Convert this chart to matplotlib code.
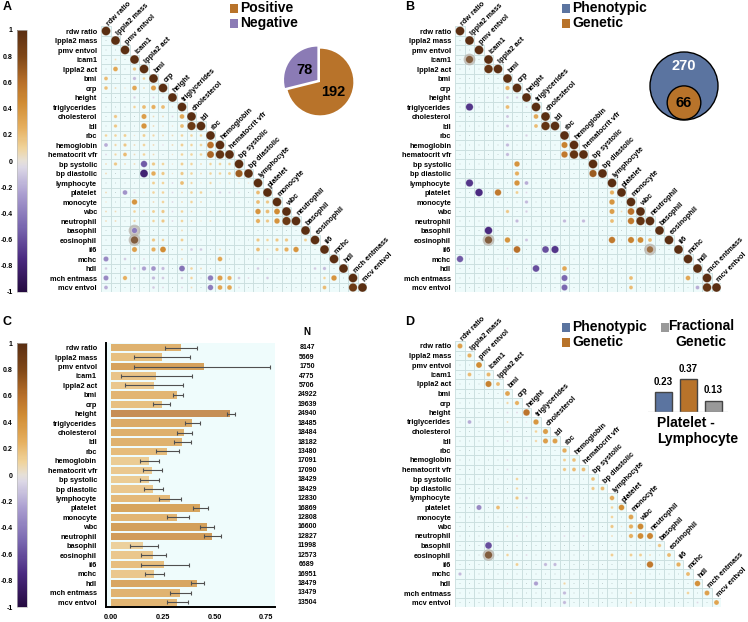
import matplotlib
matplotlib.use('Agg')
import matplotlib.pyplot as plt
from matplotlib.colors import LinearSegmentedColormap, Normalize, to_rgb
from matplotlib.patches import Rectangle, Circle
from matplotlib.cm import ScalarMappable
import numpy as np

plt.rcParams['font.family'] = ['Liberation Sans', 'DejaVu Sans']
plt.rcParams['font.weight'] = 'bold'

traits = ['rdw ratio', 'lppla2 mass', 'pmv entvol', 'icam1', 'lppla2 act', 'bmi', 'crp',
          'height', 'triglycerides', 'cholesterol', 'ldl', 'rbc', 'hemoglobin',
          'hematocrit vfr', 'bp systolic', 'bp diastolic', 'lymphocyte', 'platelet',
          'monocyte', 'wbc', 'neutrophil', 'basophil', 'eosinophil', 'il6', 'mchc', 'hdl',
          'mch entmass', 'mcv entvol']

# panel A: phenotypic correlations, lower triangle (row i holds columns 0..i-1)
pheno_rows = [
    [],
    [0.02],
    [0.02, 0.02],
    [0.02, 0.05, 0.02],
    [0.02, 0.30, 0.02, 0.15],
    [0.20, 0.02, 0.02, -0.15, 0.10],
    [0.18, 0.05, 0.03, 0.30, 0.05, 0.35],
    [0.02, 0.02, 0.02, -0.08, 0.02, -0.06, -0.04],
    [0.02, 0.02, 0.02, 0.10, 0.20, 0.25, 0.20, 0.03],
    [0.02, 0.15, 0.02, 0.02, 0.35, 0.05, 0.05, -0.05, 0.30],
    [0.02, 0.15, 0.02, 0.02, 0.40, 0.05, 0.03, 0.03, 0.20, 0.90],
    [0.10, 0.10, 0.12, 0.03, 0.12, 0.08, 0.05, 0.05, 0.10, 0.10, 0.10],
    [-0.20, 0.08, 0.15, 0.05, 0.10, 0.05, -0.04, 0.05, 0.12, 0.10, 0.10, 0.60],
    [-0.05, 0.08, 0.20, 0.05, 0.10, 0.05, 0.02, 0.03, 0.10, 0.10, 0.10, 0.65, 0.95],
    [0.05, 0.15, 0.05, 0.05, -0.55, 0.15, 0.10, 0.03, 0.12, 0.10, 0.05, 0.10, 0.10, 0.10],
    [0.05, 0.02, 0.02, 0.02, -0.80, 0.28, 0.15, 0.03, 0.15, 0.10, 0.05, 0.10, 0.10, 0.12, 0.70],
    [0.02, 0.02, 0.02, 0.02, 0.02, 0.12, 0.10, -0.05, 0.20, 0.08, 0.03, 0.08, 0.03, 0.03, 0.03,
     0.03],
    [0.05, 0.02, -0.30, -0.05, 0.03, 0.10, 0.10, -0.05, 0.05, 0.10, 0.10, 0.03, -0.08, -0.06,
     -0.04, 0.02, 0.20],
    [0.03, 0.02, 0.02, 0.40, 0.02, 0.05, 0.10, -0.05, 0.05, 0.10, 0.05, 0.02, 0.02, -0.05, 0.02,
     0.02, 0.20, 0.15],
    [0.05, 0.05, 0.02, 0.10, 0.05, 0.12, 0.15, -0.05, 0.10, 0.05, 0.03, 0.05, 0.05, 0.03, 0.03,
     0.03, 0.40, 0.20, 0.45],
    [0.05, 0.05, 0.02, 0.08, 0.02, 0.10, 0.15, -0.05, 0.10, 0.05, 0.03, 0.05, 0.02, 0.02, 0.02,
     0.02, 0.25, 0.15, 0.40, 0.90],
    [0.02, 0.02, 0.02, -0.40, 0.02, 0.02, 0.02, 0.02, 0.05, 0.03, 0.02, 0.02, 0.02, 0.02, 0.02,
     0.02, 0.02, 0.02, 0.02, 0.02, 0.02],
    [0.02, 0.02, 0.02, 0.75, 0.02, 0.15, 0.10, 0.02, 0.12, 0.02, 0.02, 0.02, 0.02, 0.02, 0.02,
     0.02, 0.15, 0.10, 0.15, 0.15, 0.02, 0.12],
    [0.02, 0.02, 0.02, 0.35, 0.02, 0.25, 0.45, 0.02, 0.05, -0.10, -0.10, 0.02, 0.05, 0.02, 0.02,
     0.02, 0.20, 0.05, 0.15, 0.25, 0.40, 0.02, 0.02],
    [-0.35, 0.02, -0.10, 0.02, -0.05, 0.02, -0.05, 0.02, 0.05, 0.02, 0.02, 0.02, 0.30, 0.02,
     0.02, 0.02, 0.02, -0.05, 0.02, 0.02, 0.02, 0.02, 0.02, 0.02],
    [-0.10, 0.02, 0.02, -0.10, -0.25, -0.30, -0.15, 0.02, -0.45, 0.10, 0.05, 0.02, 0.02, 0.02,
     0.02, 0.02, -0.10, 0.02, 0.02, 0.02, 0.02, 0.02, -0.10, -0.15, 0.02],
    [-0.35, 0.02, 0.25, 0.02, 0.02, -0.15, -0.10, 0.02, -0.08, 0.10, 0.02, -0.40, 0.35, 0.25,
     -0.10, -0.05, 0.02, -0.10, 0.02, 0.02, 0.02, 0.02, 0.02, 0.10, 0.40, 0.02],
    [-0.20, 0.02, 0.02, 0.02, 0.02, -0.10, -0.05, 0.02, -0.05, 0.05, 0.02, -0.40, 0.30, 0.30,
     -0.05, 0.02, 0.02, 0.02, 0.02, 0.02, 0.02, 0.02, 0.02, 0.20, 0.02, 0.02, 0.90],
]
pheno_halo = [(21, 3), (22, 3)]
pie_counts = [78, 192]          # negative, positive

# panel B: genetic correlations (row, col, value); other cells ~0
genetic_cells = [
    (3, 1, 0.75), (4, 3, 0.95), (6, 5, 0.25), (7, 5, -0.10), (7, 6, -0.08), (8, 1, -0.70),
    (8, 5, 0.20), (8, 7, -0.05), (9, 5, -0.12), (9, 8, 0.30), (10, 5, -0.12), (10, 8, 0.20),
    (10, 9, 0.95), (11, 7, -0.08), (12, 5, -0.15), (12, 11, 0.50), (13, 5, -0.15),
    (13, 11, 0.55), (13, 12, 0.95), (14, 6, 0.40), (15, 6, 0.25), (15, 14, 0.70),
    (16, 1, -0.70), (16, 6, 0.40), (16, 7, -0.20), (17, 2, -0.75), (17, 4, 0.55),
    (17, 6, 0.12), (17, 7, -0.05), (17, 16, 0.25), (18, 7, -0.15), (18, 16, 0.40),
    (19, 5, 0.15), (19, 7, -0.08), (19, 16, 0.35), (19, 17, 0.05), (19, 18, 0.60),
    (20, 6, -0.15), (20, 11, -0.15), (20, 13, -0.15), (20, 16, 0.20), (20, 18, 0.55),
    (20, 19, 0.95), (21, 3, -0.75), (22, 3, 0.75), (22, 5, 0.40), (22, 7, -0.12),
    (22, 16, 0.55), (22, 18, 0.50), (22, 19, 0.45), (22, 20, 0.20), (23, 6, 0.60),
    (23, 9, -0.60), (23, 10, -0.70), (23, 20, 0.60), (24, 0, -0.55), (25, 5, -0.05),
    (25, 8, -0.60), (25, 11, 0.30), (26, 11, -0.50), (26, 18, 0.20), (26, 24, 0.30),
    (27, 11, -0.50), (27, 18, 0.20), (27, 25, -0.20), (27, 26, 0.95),
]
genetic_halo = [(3, 1), (22, 3), (23, 20)]
venn_counts = [270, 66]         # phenotypic, genetic

# panel C: heritability with confidence interval, sample size
h2 = [0.338, 0.245, 0.45, 0.22, 0.206, 0.32, 0.245, 0.575, 0.39, 0.355, 0.343, 0.27, 0.185,
      0.20, 0.185, 0.205, 0.285, 0.43, 0.32, 0.465, 0.49, 0.157, 0.205, 0.255, 0.21, 0.415,
      0.335, 0.318]
h2_lo = [0.26, 0.113, 0.11, 0.05, 0.07, 0.30, 0.205, 0.56, 0.36, 0.32, 0.305, 0.22, 0.14,
         0.155, 0.14, 0.16, 0.23, 0.395, 0.27, 0.43, 0.45, 0.09, 0.145, 0.145, 0.163, 0.387,
         0.284, 0.27]
h2_hi = [0.417, 0.38, 0.77, 0.39, 0.35, 0.35, 0.284, 0.60, 0.43, 0.39, 0.385, 0.33, 0.23,
         0.245, 0.23, 0.25, 0.34, 0.47, 0.375, 0.50, 0.53, 0.225, 0.265, 0.375, 0.255, 0.45,
         0.387, 0.37]
n_obs = [8147, 5669, 1750, 4775, 5706, 24922, 19639, 24940, 18485, 18484, 18182, 13480, 17091,
         17090, 18429, 18429, 12830, 16869, 12808, 16600, 12827, 11998, 12573, 6689, 16951,
         18479, 13479, 13504]

# panel D: genetic contribution to phenotypic correlation (diagonal = h2)
contrib_cells = [
    (3, 1, 0.20), (4, 3, 0.50), (6, 5, 0.08), (7, 5, -0.05), (7, 6, -0.05), (8, 1, -0.20),
    (8, 5, 0.05), (8, 7, -0.03), (9, 5, -0.05), (9, 8, 0.10), (10, 5, -0.05), (10, 8, 0.08),
    (10, 9, 0.35), (11, 7, -0.05), (12, 5, -0.05), (12, 11, 0.12), (13, 5, -0.05),
    (13, 11, 0.15), (13, 12, 0.20), (14, 6, 0.10), (15, 6, 0.08), (15, 14, 0.15),
    (16, 6, 0.15), (16, 7, -0.10), (17, 2, -0.35), (17, 4, 0.20), (17, 6, 0.05),
    (17, 7, -0.03), (17, 16, 0.10), (18, 7, -0.05), (18, 16, 0.10), (19, 5, 0.05),
    (19, 7, -0.03), (19, 16, 0.15), (19, 17, 0.03), (19, 18, 0.25), (20, 6, -0.05),
    (20, 11, -0.05), (20, 13, -0.05), (20, 16, 0.05), (20, 18, 0.25), (20, 19, 0.45),
    (21, 3, -0.60), (22, 3, 0.75), (22, 5, 0.10), (22, 7, -0.05), (22, 16, 0.12),
    (22, 18, 0.12), (22, 19, 0.12), (22, 20, 0.05), (23, 6, 0.12), (23, 9, -0.15),
    (23, 10, -0.15), (23, 20, 0.55), (24, 0, -0.15), (25, 5, -0.03), (25, 8, -0.25),
    (25, 11, 0.08), (26, 11, -0.15), (26, 18, 0.05), (26, 24, 0.10), (27, 11, -0.15),
    (27, 18, 0.05), (27, 25, -0.05),
]
contrib_halo = [(22, 3)]
pair_labels = ['Phenotypic', 'Genetic', 'Fractional\nGenetic']
pair_values = [0.23, 0.37, 0.13]

BLUE, ORANGE, GREY, PURPLE = '#5b74a0', '#b8732a', '#999999', '#8b7bb5'
cbar_ticks = [1, 0.8, 0.6, 0.4, 0.2, 0, -0.2, -0.4, -0.6, -0.8, -1]

nodes = [-1, -0.75, -0.5, -0.25, -0.05, 0, 0.1, 0.25, 0.45, 0.6, 0.8, 1]
node_cols = ['#250a40', '#4a2a80', '#7a68b0', '#aa9ed0', '#dcd8e6', '#e6e0d8', '#f0d49c',
             '#e6b060', '#d08c34', '#b8702a', '#804818', '#5a2e12']
cmap = LinearSegmentedColormap.from_list('corr', list(zip((np.array(nodes) + 1) / 2, node_cols)))
norm = Normalize(-1, 1)

W, H = 748, 622
fig = plt.figure(figsize=(W / 100, H / 100), dpi=100)


def px_axes(x0, y0, x1, y1):
    a = fig.add_axes([x0 / W, 1 - y1 / H, (x1 - x0) / W, (y1 - y0) / H])
    a.patch.set_alpha(0)
    return a


n = len(traits)


def to_matrix(rows=None, cells=None, diag=None):
    m = np.zeros((n, n))
    if rows is not None:
        for i, r in enumerate(rows):
            m[i, :len(r)] = r
    if cells is not None:
        for i, j, v in cells:
            m[i, j] = v
    m[np.arange(n), np.arange(n)] = 1 if diag is None else diag
    return m


def draw_matrix(ax, m, halo):
    for i in range(n):
        for j in range(i + 1):
            ax.add_patch(Rectangle((j - 0.5, i - 0.5), 1, 1, fc='#eefbfb', ec='#c9dede', lw=0.6))
    for i in range(n):
        for j in range(i + 1):
            v = m[i, j]
            if abs(v) < 0.03:
                ax.add_patch(Circle((j, i), 0.05, fc='#b3c3c3', lw=0))
                continue
            c = np.array(to_rgb(cmap(norm(v))))
            if (i, j) in halo:
                ax.add_patch(Circle((j, i), 0.62, fc='#b4ada5', alpha=0.7, lw=0))
                if v > 0:
                    c = 0.6 * c + 0.4 * np.array(to_rgb('#707070'))
            ax.add_patch(Circle((j, i), 0.47 * np.sqrt(abs(v)), fc=c, ec=(1, 1, 1, 0.35), lw=0.5))
    ax.set_xlim(-0.5, n - 0.5)
    ax.set_ylim(n - 0.5, -0.5)
    ax.set_yticks(range(n))
    ax.set_yticklabels(traits, fontsize=5.3)
    ax.tick_params(length=0, pad=3)
    ax.set_xticks([])
    for s in ax.spines.values():
        s.set_visible(False)
    for j, t in enumerate(traits):
        ax.text(j + 0.3, j - 0.55, t, rotation=45, rotation_mode='anchor', ha='left',
                va='baseline', fontsize=5.3)


def colorbar(y0, y1):
    cax = px_axes(17, y0, 27, y1)
    cb = fig.colorbar(ScalarMappable(norm, cmap), cax=cax, ticks=cbar_ticks)
    cax.yaxis.set_ticks_position('left')
    cb.set_ticklabels([('%g' % t) for t in cbar_ticks])
    cax.tick_params(length=0, pad=3, labelsize=5)
    cb.outline.set_edgecolor('#bbbbbb')
    cb.outline.set_linewidth(0.5)


# ---- A ----
colorbar(30, 292)
axA = px_axes(101.25, 26.25, 367.25, 292.25)
draw_matrix(axA, to_matrix(rows=pheno_rows), pheno_halo)

pax = px_axes(280, 42, 360, 122)
pax.pie(pie_counts, colors=[PURPLE, ORANGE], startangle=90, explode=[0.1, 0],
        autopct=lambda p: '%d' % round(p * sum(pie_counts) / 100), pctdistance=0.5,
        textprops=dict(fontsize=10.5, color='black'))
pax.set_xlim(-1.2, 1.2)
pax.set_ylim(-1.2, 1.2)

# ---- B ----
axB = px_axes(455.25, 26.25, 721.25, 292.25)
draw_matrix(axB, to_matrix(cells=genetic_cells), genetic_halo)

vax = px_axes(640, 40, 730, 130)
vax.set_xlim(640, 730)
vax.set_ylim(130, 40)
vax.axis('off')
r_big = 34
r_small = r_big * np.sqrt(venn_counts[1] / venn_counts[0])
vax.add_patch(Circle((684, 86), r_big, fc=BLUE, ec='black', lw=1))
vax.add_patch(Circle((684, 86 + r_big - r_small - 0.5), r_small, fc=ORANGE, ec='black', lw=1))
vax.text(684, 66, str(venn_counts[0]), color='white', fontsize=10.5, ha='center', va='center')
vax.text(684, 86 + r_big - r_small, str(venn_counts[1]), fontsize=10.5, ha='center', va='center')

# ---- C ----
colorbar(343, 607)
axC = px_axes(106, 343, 275, 607)
axC.patch.set_alpha(1)
axC.set_facecolor('#effcfc')
y = np.arange(n)
h2a = np.array(h2)
axC.barh(y, h2a, height=0.8, color=cmap(norm(h2a)), alpha=0.8)
axC.errorbar(h2a, y, xerr=[h2a - np.array(h2_lo), np.array(h2_hi) - h2a], fmt='none',
             ecolor='#505050', elinewidth=0.8, capsize=1.5, capthick=0.8)
axC.set_ylim(n - 0.5, -0.5)
axC.set_xlim(-0.024, 0.793)
axC.set_yticks(y)
axC.set_yticklabels(traits, fontsize=5.3)
axC.set_xticks([0, 0.25, 0.5, 0.75])
axC.set_xticklabels(['0.00', '0.25', '0.50', '0.75'], fontsize=5.3)
axC.tick_params(length=0)
axC.tick_params(axis='y', pad=6.5)
axC.tick_params(axis='x', pad=5)
for s in ['top', 'right']:
    axC.spines[s].set_visible(False)
for s in ['left', 'bottom']:
    axC.spines[s].set_linewidth(1.4)
for i, v in enumerate(n_obs):
    axC.text(0.948, i, str(v), fontsize=5, ha='center', va='center', clip_on=False)
axC.text(0.948, -1.65, 'N', fontsize=7, ha='center', va='center', clip_on=False)

# ---- D ----
axD = px_axes(455.25, 341.25, 721.25, 607.25)
draw_matrix(axD, to_matrix(cells=contrib_cells, diag=h2a), contrib_halo)

bax = px_axes(648, 372, 728, 412)
xb = np.arange(len(pair_values))
bax.bar(xb, pair_values, width=0.68, color=[BLUE, ORANGE, GREY], edgecolor='#444444', lw=1)
bax.axhline(0, color='#cccccc', lw=1)
for xi, v in zip(xb, pair_values):
    bax.text(xi, v + 0.06, '%.2f' % v, fontsize=7, ha='center', va='bottom')
bax.set_xlim(-0.6, 2.6)
bax.set_ylim(0, 0.455)
bax.axis('off')

# overlay on top for panel letters and legends
over = fig.add_axes([0, 0, 1, 1])
over.set_zorder(10)
over.patch.set_alpha(0)
over.set_xlim(0, W)
over.set_ylim(H, 0)
over.axis('off')
for lab, x, y0 in [('A', 3, 7), ('B', 405, 7), ('C', 3, 322), ('D', 405, 322)]:
    over.text(x, y0, lab, fontsize=9, ha='left', va='center')


def legend_item(x, yc, color, label):
    over.add_patch(Rectangle((x, yc - 4.5), 8, 9, fc=color, lw=0))
    over.text(x + 10, yc, label, fontsize=10, ha='left', va='center')


legend_item(230, 8, ORANGE, 'Positive')
legend_item(230, 23, PURPLE, 'Negative')
legend_item(562, 8, BLUE, 'Phenotypic')
legend_item(562, 23, ORANGE, 'Genetic')
legend_item(562, 327, BLUE, 'Phenotypic')
legend_item(562, 342, ORANGE, 'Genetic')
over.add_patch(Rectangle((661, 322.5), 8, 9, fc=GREY, lw=0))
over.text(701, 319, 'Fractional\nGenetic', fontsize=10, ha='center', va='top')
over.text(657, 431, 'Platelet -\nLymphocyte', fontsize=10, ha='left', va='center')

fig.savefig('out.png', dpi=100)
